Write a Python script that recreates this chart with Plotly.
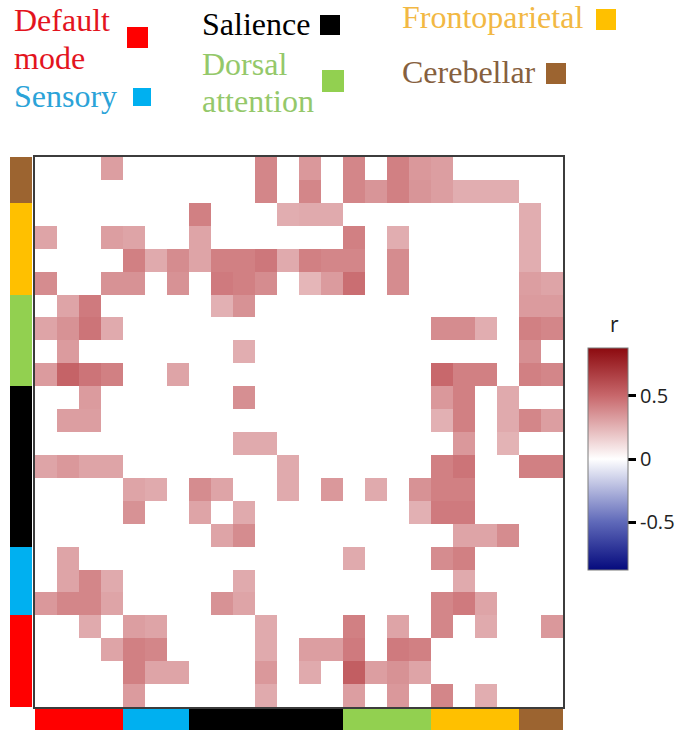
import plotly.graph_objects as go

# ---------------- data ----------------
networks = ["Default mode", "Sensory", "Salience", "Dorsal attention", "Frontoparietal", "Cerebellar"]
network_sizes = [4, 3, 7, 4, 4, 2]
network_colors = ["#ff0000", "#00b0f0", "#000000", "#92d050", "#ffc000", "#9c6430"]

# correlation matrix r, rows listed from the TOP of the picture downwards,
# columns from left to right (node order: Default mode ... Cerebellar)
r_rows_top_to_bottom = [
    [0, 0, 0, .32, 0, 0, 0, 0, 0, 0, .40, 0, .34, 0, .40, 0, .42, .34, .32, 0, 0, 0, 0, 0],
    [0, 0, 0, 0, 0, 0, 0, 0, 0, 0, .40, 0, .40, 0, .40, .35, .42, .35, .32, .27, .27, .27, 0, 0],
    [0, 0, 0, 0, 0, 0, 0, .42, 0, 0, 0, .27, .28, .28, 0, 0, 0, 0, 0, 0, 0, 0, .27, 0],
    [.30, 0, 0, .32, .30, 0, 0, .30, 0, 0, 0, 0, 0, 0, .42, 0, .27, 0, 0, 0, 0, 0, .27, 0],
    [0, 0, 0, 0, .42, .28, .38, .30, .42, .42, .45, .28, .42, .40, .40, 0, .38, 0, 0, 0, 0, 0, .27, 0],
    [.38, 0, 0, .36, .36, 0, .36, 0, .44, .42, .38, 0, .24, .33, .48, 0, .38, 0, 0, 0, 0, 0, .32, .30],
    [0, .30, .44, 0, 0, 0, 0, 0, .26, .36, 0, 0, 0, 0, 0, 0, 0, 0, 0, 0, 0, 0, .33, .33],
    [.30, .36, .46, .28, 0, 0, 0, 0, 0, 0, 0, 0, 0, 0, 0, 0, 0, 0, .38, .38, .27, 0, .42, .40],
    [0, .33, 0, 0, 0, 0, 0, 0, 0, .27, 0, 0, 0, 0, 0, 0, 0, 0, 0, 0, 0, 0, .37, 0],
    [.33, .52, .46, .42, 0, 0, .30, 0, 0, 0, 0, 0, 0, 0, 0, 0, 0, 0, .50, .42, .42, 0, .42, .40],
    [0, 0, .33, 0, 0, 0, 0, 0, 0, .37, 0, 0, 0, 0, 0, 0, 0, 0, .34, .42, 0, .28, 0, 0],
    [0, .32, .32, 0, 0, 0, 0, 0, 0, 0, 0, 0, 0, 0, 0, 0, 0, 0, .26, .42, 0, .28, .40, .32],
    [0, 0, 0, 0, 0, 0, 0, 0, 0, .28, .28, 0, 0, 0, 0, 0, 0, 0, 0, .34, 0, .25, 0, 0],
    [.30, .34, .30, .30, 0, 0, 0, 0, 0, 0, 0, .28, 0, 0, 0, 0, 0, 0, .42, .46, 0, 0, .42, .42],
    [0, 0, 0, 0, .30, .28, 0, .38, .30, 0, 0, .28, 0, .34, 0, .28, 0, .36, .42, .42, 0, 0, 0, 0],
    [0, 0, 0, 0, .36, 0, 0, .30, 0, .28, 0, 0, 0, 0, 0, 0, 0, .26, .44, .44, 0, 0, 0, 0],
    [0, 0, 0, 0, 0, 0, 0, 0, .30, .38, 0, 0, 0, 0, 0, 0, 0, 0, 0, .30, .30, .38, 0, 0],
    [0, .30, 0, 0, 0, 0, 0, 0, 0, 0, 0, 0, 0, 0, .28, 0, 0, 0, .38, .42, 0, 0, 0, 0],
    [0, .30, .40, .28, 0, 0, 0, 0, 0, .28, 0, 0, 0, 0, 0, 0, 0, 0, 0, .28, 0, 0, 0, 0],
    [.34, .40, .40, .30, 0, 0, 0, 0, .36, .30, 0, 0, 0, 0, 0, 0, 0, 0, .40, .44, .30, 0, 0, 0],
    [0, 0, .28, 0, .32, .30, 0, 0, 0, 0, .28, 0, 0, 0, .42, 0, .30, 0, .40, 0, .28, 0, 0, .34],
    [0, 0, 0, .30, .42, .40, 0, 0, 0, 0, .28, 0, .32, .32, .44, 0, .44, .42, 0, 0, 0, 0, 0, 0],
    [0, 0, 0, 0, .42, .30, .30, 0, 0, 0, .34, 0, .28, 0, .54, .32, .36, .30, 0, 0, 0, 0, 0, 0],
    [0, 0, 0, 0, .33, 0, 0, 0, 0, 0, .28, 0, 0, 0, .32, 0, .34, 0, .40, 0, .27, 0, 0, 0],
]

colorbar_ticks = [-0.5, 0, 0.5]
colorbar_ticktext = ["-0.5", "0", "0.5"]

# ---------------- styling ----------------
W, H = 695, 730
def px(x):
    return x / W
def py(y):
    return 1 - y / H

n = sum(network_sizes)
node_network = [k for k, s in enumerate(network_sizes) for _ in range(s)]
z = r_rows_top_to_bottom[::-1]   # bottom-origin for plotly
nodes = list(range(n))

r_scale = [
    [0.0, "rgb(5,10,125)"],
    [0.216, "rgb(95,105,185)"],
    [0.5, "rgb(255,255,255)"],
    [0.784, "rgb(200,104,108)"],
    [1.0, "rgb(140,10,15)"],
]
k = len(networks)
net_scale = []
for i, c in enumerate(network_colors):
    net_scale.append([i / k, c])
    net_scale.append([(i + 1) / k, c])

fig = go.Figure()
fig.add_trace(go.Heatmap(
    z=z, x=nodes, y=nodes, zmin=-0.88, zmax=0.88, colorscale=r_scale,
    xaxis="x", yaxis="y", hoverinfo="skip",
    colorbar=dict(
        x=px(588), xanchor="left", xpad=0, y=py(459), yanchor="middle", ypad=0,
        len=222 / H, lenmode="fraction", thickness=40,
        outlinewidth=1, outlinecolor="#7a7a7a",
        tickvals=colorbar_ticks, ticktext=colorbar_ticktext,
        ticks="outside", ticklen=8, tickwidth=2.5, tickcolor="#000",
        tickfont=dict(family="Open Sans", size=20, color="#222"),
    ),
))
fig.add_trace(go.Heatmap(
    z=[node_network], x=nodes, y=[0], zmin=-0.5, zmax=k - 0.5,
    colorscale=net_scale, showscale=False, xaxis="x2", yaxis="y2", hoverinfo="skip",
))
fig.add_trace(go.Heatmap(
    z=[[g] for g in node_network], x=[0], y=nodes, zmin=-0.5, zmax=k - 0.5,
    colorscale=net_scale, showscale=False, xaxis="x3", yaxis="y3", hoverinfo="skip",
))

hidden = dict(showticklabels=False, ticks="", showgrid=False, zeroline=False)
frame = dict(showline=True, mirror=True, linecolor="#3c3c3c", linewidth=2)
fig.update_layout(
    width=W, height=H, margin=dict(l=0, r=0, t=0, b=0),
    paper_bgcolor="white", plot_bgcolor="white",
    xaxis=dict(domain=[px(35), px(563)], range=[-0.5, n - 0.5], anchor="y", **hidden, **frame),
    yaxis=dict(domain=[py(707), py(157)], range=[-0.5, n - 0.5], anchor="x", **hidden, **frame),
    xaxis2=dict(domain=[px(35), px(563)], range=[-0.5, n - 0.5], anchor="y2", **hidden),
    yaxis2=dict(domain=[0, py(709)], range=[-0.5, 0.5], anchor="x2", **hidden),
    xaxis3=dict(domain=[px(10), px(32)], range=[-0.5, 0.5], anchor="y3", **hidden),
    yaxis3=dict(domain=[py(707), py(157)], range=[-0.5, n - 0.5], anchor="x3", **hidden),
)

# colorbar title
fig.add_annotation(text="r", x=px(614), y=py(324), xref="paper", yref="paper",
                   xanchor="center", yanchor="middle", showarrow=False,
                   font=dict(family="Open Sans", size=21, color="#222"))

# legend (text lines + colour squares)
text_colors = ["#e3141e", "#2ba3d8", "#000000", "#94c86a", "#f2b843", "#86603e"]
legend_lines = [  # (text, network index, x px, y px centre)
    ("Default", 0, 12, 20), ("mode", 0, 12, 58), ("Sensory", 1, 12, 96),
    ("Salience", 2, 200, 24), ("Dorsal", 3, 200, 64), ("attention", 3, 200, 101),
    ("Frontoparietal", 4, 400, 17), ("Cerebellar", 5, 400, 72),
]
for txt, gi, x, y in legend_lines:
    fig.add_annotation(text=txt, x=px(x), y=py(y), xref="paper", yref="paper",
                       xanchor="left", yanchor="middle", showarrow=False,
                       font=dict(family="Liberation Serif", size=32, color=text_colors[gi]))
legend_squares = [  # network index, x0, y0, x1, y1 (px)
    (0, 127, 27, 148, 48), (1, 133, 88, 151, 106), (2, 320, 15, 340, 35),
    (3, 322, 70, 344, 92), (4, 596, 9, 616, 30), (5, 546, 63, 566, 84),
]
for gi, x0, y0, x1, y1 in legend_squares:
    fig.add_shape(type="rect", xref="paper", yref="paper",
                  x0=px(x0), x1=px(x1), y0=py(y1), y1=py(y0),
                  fillcolor=network_colors[gi], line=dict(width=0))

fig.write_html("out.html")
